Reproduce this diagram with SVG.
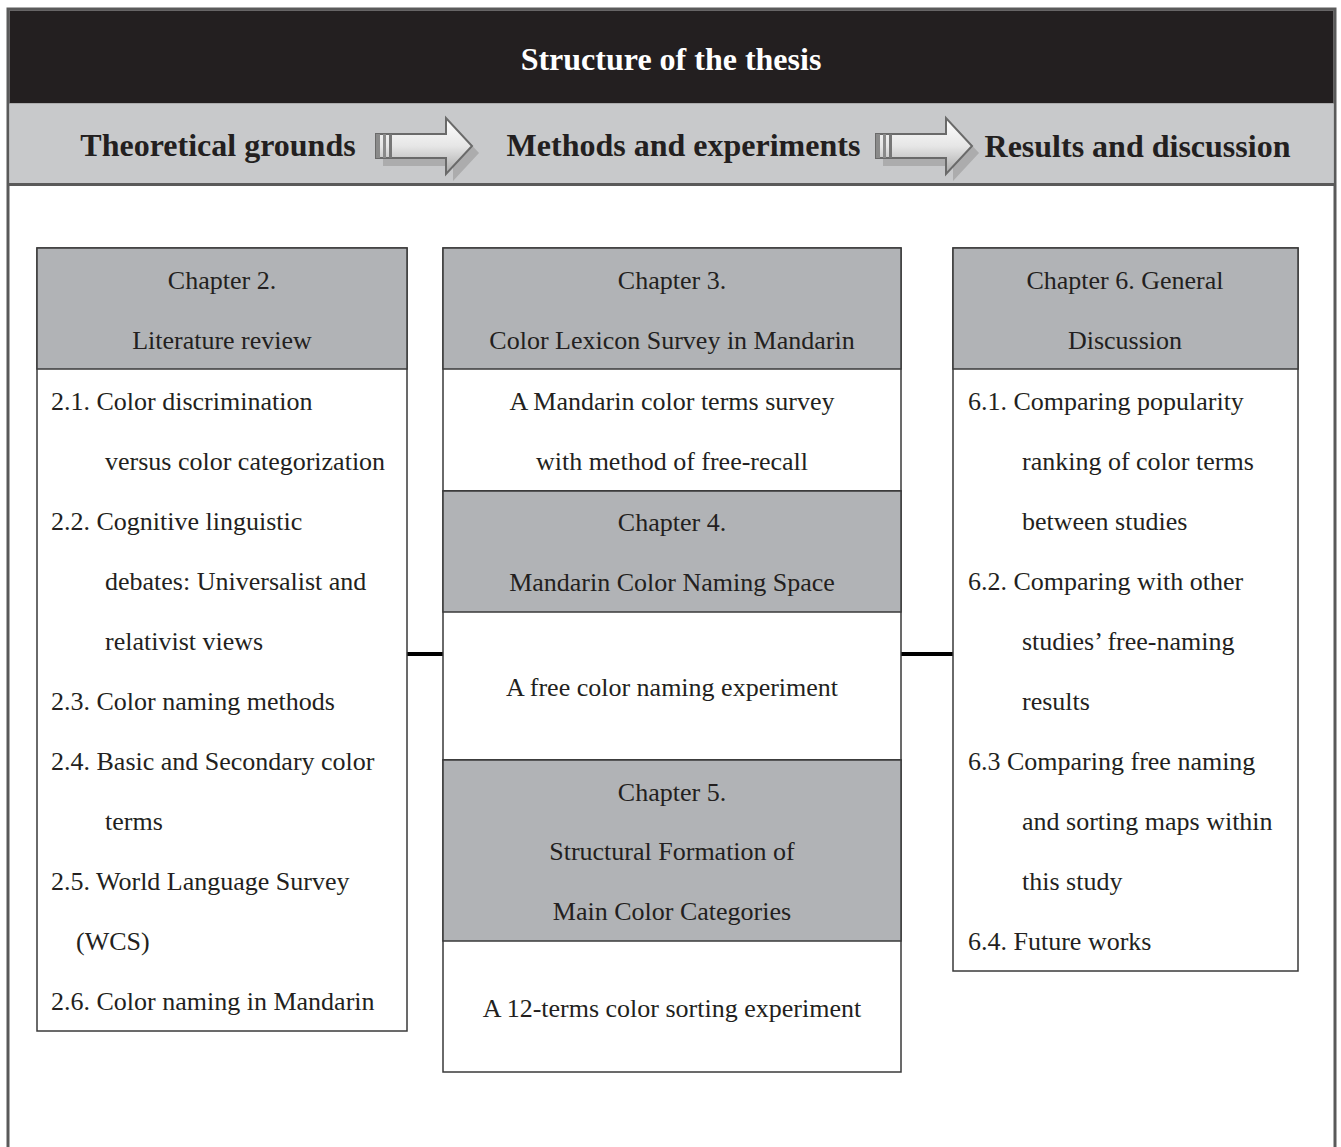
<svg xmlns="http://www.w3.org/2000/svg" width="1341" height="1147" viewBox="0 0 1341 1147">
<defs>
<style>
.t{font-family:"Liberation Serif","Times New Roman",serif;font-size:26px;fill:#231f20}
.c{text-anchor:middle}
.h{font-family:"Liberation Serif","Times New Roman",serif;font-weight:bold;font-size:32px;fill:#231f20}
.box{fill:#fff;stroke:#3a3a3a;stroke-width:1.5}
.hd{fill:#b1b3b6;stroke:#3a3a3a;stroke-width:1.5}
.conn{stroke:#000;stroke-width:4}
</style>
<linearGradient id="ag" x1="0" y1="0" x2="0" y2="1">
<stop offset="0" stop-color="#ffffff"/>
<stop offset="0.5" stop-color="#e6e6e6"/>
<stop offset="1" stop-color="#a8a8a8"/>
</linearGradient>
<g id="arrow">
<path d="M4,19 H74 V4 L100,32 L74,60 V45 H4 Z" fill="#9a9a9a" opacity="0.6" transform="translate(3,3)"/>
<path d="M0,16 H70 V0 L96,28 L70,56 V40 H0 Z" fill="url(#ag)" stroke="#6a6a6a" stroke-width="2"/>
<rect x="0" y="16" width="4" height="24" fill="#8a8a8a"/>
<rect x="7" y="16" width="3" height="24" fill="#8a8a8a"/>
<rect x="13" y="16" width="3" height="24" fill="#777"/>
</g>
</defs>
<g id="frame">
<path d="M8,1147 V9 H1335 V1147" fill="none" stroke="#5a5a5a" stroke-width="3"/>
<rect x="9.5" y="10.5" width="1324" height="93" fill="#231f20"/>
<rect x="9.5" y="103.5" width="1324" height="80" fill="#c8c9cb"/>
<line x1="9" y1="184.5" x2="1334" y2="184.5" stroke="#5a5a5a" stroke-width="3"/>
<text class="h c" x="671" y="70" style="fill:#fff">Structure of the thesis</text>
<text class="h c" x="218" y="156">Theoretical grounds</text>
<text class="h c" x="683.5" y="156">Methods and experiments</text>
<text class="h c" x="1137.5" y="157">Results and discussion</text>
<use href="#arrow" x="376" y="118"/>
<use href="#arrow" x="876" y="118"/>
</g>
<g id="connectors">
<line class="conn" x1="407" y1="654" x2="443" y2="654"/>
<line class="conn" x1="901" y1="654" x2="953" y2="654"/>
</g>
<g id="chapter2">
<rect class="box" x="37" y="248" width="370" height="783"/>
<rect class="hd" x="37" y="248" width="370" height="121"/>
<text class="t c" x="222" y="289">Chapter 2.</text>
<text class="t c" x="222" y="349">Literature review</text>
<text class="t" x="51" y="410">2.1. Color discrimination</text>
<text class="t" x="105" y="470">versus color categorization</text>
<text class="t" x="51" y="530">2.2. Cognitive linguistic</text>
<text class="t" x="105" y="590">debates: Universalist and</text>
<text class="t" x="105" y="650">relativist views</text>
<text class="t" x="51" y="710">2.3. Color naming methods</text>
<text class="t" x="51" y="770">2.4. Basic and Secondary color</text>
<text class="t" x="105" y="830">terms</text>
<text class="t" x="51" y="890">2.5. World Language Survey</text>
<text class="t" x="76" y="950">(WCS)</text>
<text class="t" x="51" y="1010">2.6. Color naming in Mandarin</text>
</g>
<g id="chapter3">
<rect class="box" x="443" y="248" width="458" height="243"/>
<rect class="hd" x="443" y="248" width="458" height="121"/>
<text class="t c" x="672" y="289">Chapter 3.</text>
<text class="t c" x="672" y="349">Color Lexicon Survey in Mandarin</text>
<text class="t c" x="672" y="410">A Mandarin color terms survey</text>
<text class="t c" x="672" y="470">with method of free-recall</text>
</g>
<g id="chapter4">
<rect class="box" x="443" y="491" width="458" height="269"/>
<rect class="hd" x="443" y="491" width="458" height="121"/>
<text class="t c" x="672" y="531">Chapter 4.</text>
<text class="t c" x="672" y="591">Mandarin Color Naming Space</text>
<text class="t c" x="672" y="696">A free color naming experiment</text>
</g>
<g id="chapter5">
<rect class="box" x="443" y="760" width="458" height="312"/>
<rect class="hd" x="443" y="760" width="458" height="181"/>
<text class="t c" x="672" y="801">Chapter 5.</text>
<text class="t c" x="672" y="860">Structural Formation of</text>
<text class="t c" x="672" y="920">Main Color Categories</text>
<text class="t c" x="672" y="1017">A 12-terms color sorting experiment</text>
</g>
<g id="chapter6">
<rect class="box" x="953" y="248" width="345" height="723"/>
<rect class="hd" x="953" y="248" width="345" height="121"/>
<text class="t c" x="1125" y="289">Chapter 6. General</text>
<text class="t c" x="1125" y="349">Discussion</text>
<text class="t" x="968" y="410">6.1. Comparing popularity</text>
<text class="t" x="1022" y="470">ranking of color terms</text>
<text class="t" x="1022" y="530">between studies</text>
<text class="t" x="968" y="590">6.2. Comparing with other</text>
<text class="t" x="1022" y="650">studies’ free-naming</text>
<text class="t" x="1022" y="710">results</text>
<text class="t" x="968" y="770">6.3 Comparing free naming</text>
<text class="t" x="1022" y="830">and sorting maps within</text>
<text class="t" x="1022" y="890">this study</text>
<text class="t" x="968" y="950">6.4. Future works</text>
</g>
</svg>
